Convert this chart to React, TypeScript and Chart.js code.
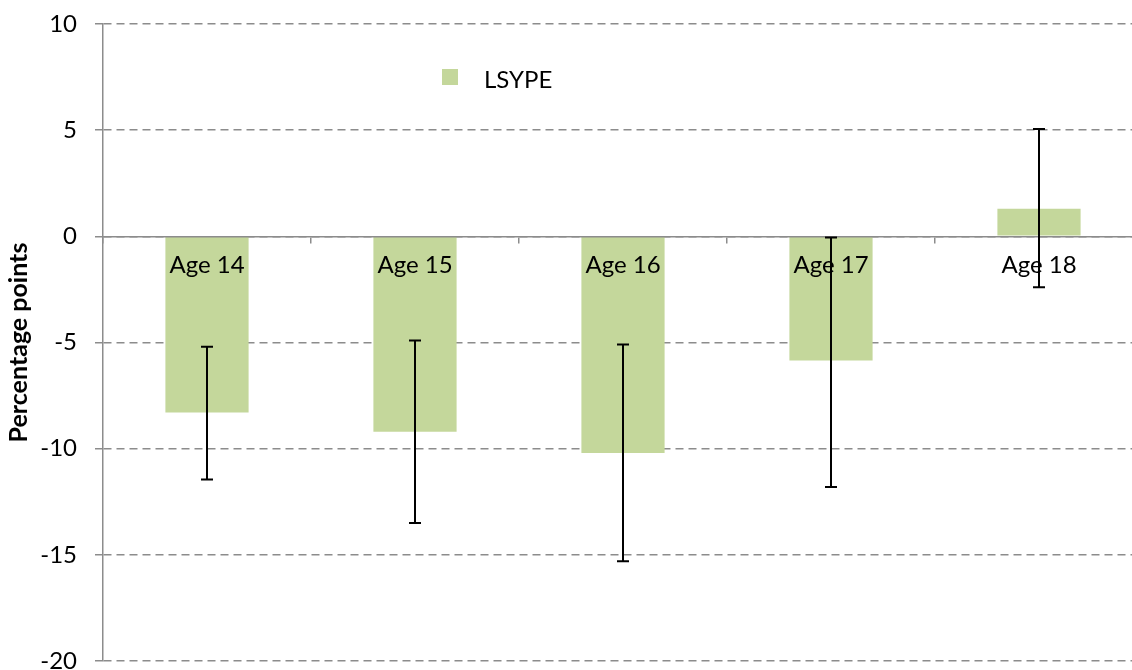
import React, { useEffect, useRef } from "react";
import { Chart, registerables } from "chart.js";

Chart.register(...registerables);

const categories = ["Age 14", "Age 15", "Age 16", "Age 17", "Age 18"];
const seriesLabel = "LSYPE";
const values = [-8.3, -9.2, -10.2, -5.85, 1.3];
const errLow = [-11.45, -13.5, -15.3, -11.8, -2.4];
const errHigh = [-5.2, -4.9, -5.1, -0.05, 5.05];
const yTicks = [-20, -15, -10, -5, 0, 5, 10];
const yTitle = "Percentage points";

const FONT = "Lato";
const GRAY = "#8c8c8c";
const BAR = "#c4d79b";

const errorBarPlugin = {
  id: "errorBars",
  afterDraw(chart: any) {
    const meta = chart.getDatasetMeta(0);
    const y = chart.scales.y;
    const ctx = chart.ctx;
    ctx.save();
    ctx.strokeStyle = "#000";
    ctx.lineWidth = 2;
    meta.data.forEach((bar: any, i: number) => {
      const x = bar.x;
      const yt = y.getPixelForValue(errHigh[i]);
      const yb = y.getPixelForValue(errLow[i]);
      ctx.beginPath();
      ctx.moveTo(x, yt);
      ctx.lineTo(x, yb);
      ctx.moveTo(x - 6, yt);
      ctx.lineTo(x + 6, yt);
      ctx.moveTo(x - 6, yb);
      ctx.lineTo(x + 6, yb);
      ctx.stroke();
    });
    ctx.restore();
  },
};

const legendPlugin = {
  id: "customLegend",
  afterDraw(chart: any) {
    const ctx = chart.ctx;
    const area = chart.chartArea;
    const ds = chart.data.datasets[0];
    const x = area.left + 339;
    const y = area.top + 45;
    ctx.save();
    ctx.fillStyle = ds.backgroundColor;
    ctx.fillRect(x, y, 16, 16);
    ctx.fillStyle = "#000";
    ctx.font = `24px ${FONT}`;
    ctx.textBaseline = "middle";
    ctx.textAlign = "left";
    ctx.fillText(ds.label, x + 42, y + 11);
    ctx.restore();
  },
};

export default function App() {
  const ref = useRef<HTMLCanvasElement | null>(null);

  useEffect(() => {
    if (!ref.current) return;
    const chart = new Chart(ref.current, {
      type: "bar",
      data: {
        labels: categories,
        datasets: [
          {
            label: seriesLabel,
            data: values,
            backgroundColor: BAR,
            borderWidth: 0,
            categoryPercentage: 1,
            barPercentage: 0.4,
          },
        ],
      },
      options: {
        responsive: false,
        animation: false,
        layout: { padding: { left: 0, right: 17, top: 24, bottom: 29 } },
        plugins: {
          legend: { display: false },
          tooltip: { enabled: false },
        },
        scales: {
          x: {
            type: "category",
            position: { y: 0 } as any,
            offset: true,
            grid: {
              offset: true,
              drawOnChartArea: false,
              drawTicks: true,
              tickLength: 6,
              color: GRAY,
              lineWidth: 1.5,
            },
            border: { display: true, color: GRAY, width: 1.5, z: 1 },
            ticks: {
              font: { family: FONT, size: 24 },
              color: "#000",
              padding: 9,
              maxRotation: 0,
              autoSkip: false,
              z: 1,
            },
          },
          y: {
            min: -20,
            max: 10,
            afterBuildTicks: (s: any) => {
              s.ticks = yTicks.map((v) => ({ value: v }));
            },
            afterFit: (s: any) => {
              s.width = 103;
              s.paddingTop = 0;
              s.paddingBottom = 0;
            },
            grid: {
              color: GRAY,
              lineWidth: 1.5,
              tickLength: 8,
              tickColor: GRAY,
              tickBorderDash: [],
            },
            border: { display: true, color: GRAY, width: 1.5, dash: [8, 5] },
            ticks: {
              font: { family: FONT, size: 24 },
              color: "#000",
              padding: 18,
            },
            title: {
              display: true,
              text: yTitle,
              font: { family: FONT, size: 25, weight: "bold" },
              color: "#000",
              padding: { top: 4, bottom: 0 },
            },
          },
        },
      },
      plugins: [errorBarPlugin, legendPlugin],
    });
    return () => chart.destroy();
  }, []);

  return (
    <div
      style={{
        position: "fixed",
        left: 0,
        top: 0,
        width: 1132,
        height: 670,
        overflow: "hidden",
        background: "#fff",
      }}
    >
      <canvas ref={ref} width={1160} height={690} style={{ width: 1160, height: 690, display: "block" }} />
    </div>
  );
}
